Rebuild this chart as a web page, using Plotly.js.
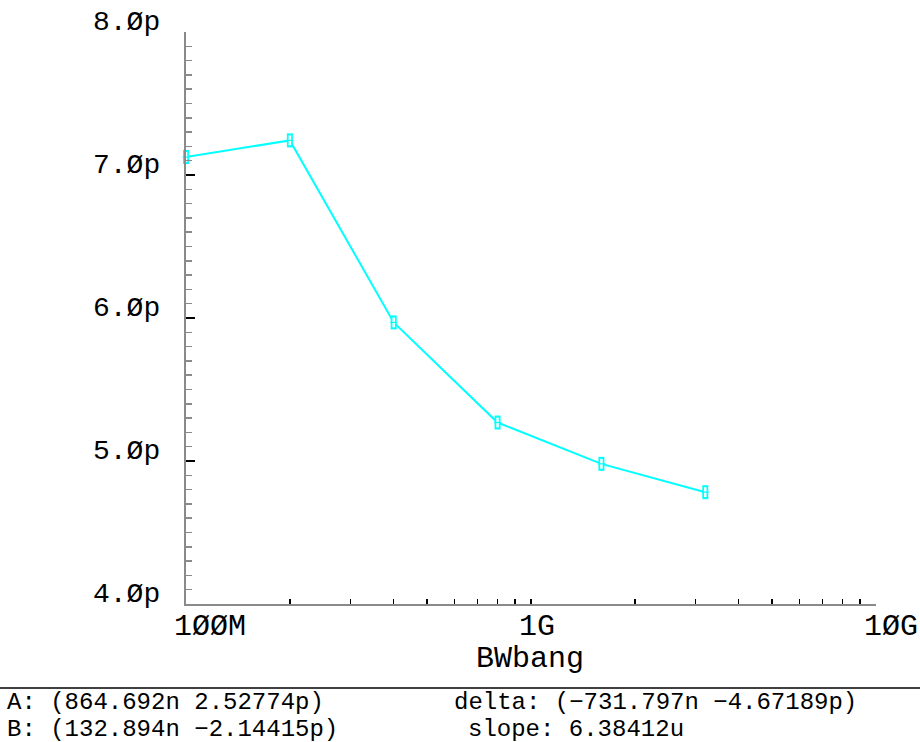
<!DOCTYPE html>
<html><head><meta charset="utf-8">
<script src="https://cdn.plot.ly/plotly-3.0.1.min.js"></script>
<style>html,body{margin:0;padding:0;background:#fff;overflow:hidden}#chart{width:920px;height:742px}</style>
</head><body><div id="chart"></div>
<script>
// ---- data ----
const bandwidth = [1e8, 2e8, 4e8, 8e8, 1.6e9, 3.2e9];           // BWbang (Hz)
const capacitance = [7.126, 7.242, 5.969, 5.269, 4.980, 4.782];  // pF
const xTickVals = [1e8, 1e9, 1e10];
const xTickText = ['1ØØM', '1G', '1ØG'];
const yTickVals = [4, 5, 6, 7, 8];
const yTickText = ['4.Øp', '5.Øp', '6.Øp', '7.Øp', '8.Øp'];
const xTitle = 'BWbang';
const cursorTexts = ['A: (864.692n 2.52774p)', 'B: (132.894n −2.14415p)', 'delta: (−731.797n −4.67189p)', 'slope: 6.38412u'];

// ---- layout geometry ----
const W = 920, H = 742, L = 186, R = 44, T = 32, B = 138;
const PW = W - L - R, PH = H - T - B;
const px = v => (v - L) / PW;
const py = v => (T + PH - v) / PH;
const FONT = 'Liberation Mono, DejaVu Sans Mono, monospace';
const CYAN = '#00ffff';

// minor log ticks on x
const xMinor = [];
for (let d = 8; d < 10; d++) for (let k = 1; k <= 9; k++) xMinor.push(k * Math.pow(10, d));
xMinor.push(1e10);

const traces = [
  {x: bandwidth, y: capacitance, mode: 'lines', line: {color: CYAN, width: 2}, hoverinfo: 'x+y', cliponaxis: false},
  {x: bandwidth, y: capacitance, mode: 'markers', marker: {symbol: 'line-ns', size: 10, line: {color: CYAN, width: 6}}, hoverinfo: 'skip', cliponaxis: false},
  {x: bandwidth, y: capacitance, mode: 'markers', marker: {symbol: 'line-ns', size: 7, line: {color: '#ffffff', width: 2.5}}, hoverinfo: 'skip', cliponaxis: false},
  {x: bandwidth, y: capacitance, mode: 'markers', marker: {symbol: 'line-ew', size: 5, line: {color: CYAN, width: 1.2}}, hoverinfo: 'skip', cliponaxis: false}
];

const annotations = [];
xTickVals.forEach((v, i) => annotations.push({
  xref: 'x', yref: 'paper', x: Math.log10(v), y: 0, text: xTickText[i], showarrow: false,
  xanchor: 'left', yanchor: 'middle', xshift: -14, yshift: -23,
  font: {family: FONT, size: 30, color: '#000'}
}));
yTickVals.forEach((v, i) => annotations.push({
  xref: 'paper', yref: 'y', x: 0, y: v, text: yTickText[i], showarrow: false,
  xanchor: 'right', yanchor: 'middle', xshift: -24, yshift: 10,
  font: {family: FONT, size: 28, color: '#000'}
}));
annotations.push({xref: 'paper', yref: 'paper', x: px(530), y: py(659), text: xTitle, showarrow: false,
  xanchor: 'center', yanchor: 'middle', font: {family: FONT, size: 30, color: '#000'}});
const cursorPos = [[5, 702], [5, 729], [452, 702], [466, 729]];
cursorTexts.forEach((t, i) => annotations.push({
  xref: 'paper', yref: 'paper', x: px(cursorPos[i][0]), y: py(cursorPos[i][1]), text: t, showarrow: false,
  xanchor: 'left', yanchor: 'middle', font: {family: FONT, size: 24, color: '#000'}
}));

const layout = {
  width: W, height: H, margin: {l: L, r: R, t: T, b: B, pad: 0},
  paper_bgcolor: '#fff', plot_bgcolor: '#fff', showlegend: false,
  xaxis: {type: 'log', range: [8, 10], showline: true, linecolor: '#8a8a8a', linewidth: 1.5,
    ticks: 'inside', tickmode: 'array', tickvals: xMinor, ticklen: 5, tickwidth: 1.5, tickcolor: '#000',
    showticklabels: false, showgrid: false, zeroline: false, fixedrange: true},
  yaxis: {range: [4, 8], showline: true, linecolor: '#8a8a8a', linewidth: 2,
    ticks: 'inside', tickmode: 'array', tickvals: yTickVals, ticklen: 9, tickwidth: 2, tickcolor: '#000',
    minor: {tickmode: 'linear', tick0: 4, dtick: 0.1, ticks: 'inside', ticklen: 6, tickwidth: 1.5, tickcolor: '#8a8a8a', showgrid: false},
    showticklabels: false, showgrid: false, zeroline: false, fixedrange: true},
  annotations: annotations,
  shapes: [{type: 'line', xref: 'paper', yref: 'paper', x0: px(0), x1: px(W), y0: py(688), y1: py(688),
    line: {color: '#000', width: 1.5}}]
};

Plotly.newPlot('chart', traces, layout, {displayModeBar: false, staticPlot: true});
</script>
</body></html>
